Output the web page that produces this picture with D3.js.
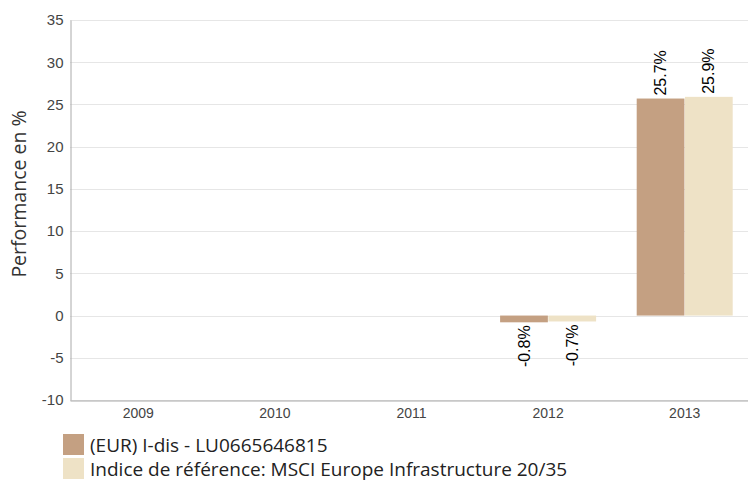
<!DOCTYPE html>
<html>
<head>
<meta charset="utf-8">
<script src="https://cdn.jsdelivr.net/npm/d3@7"></script>
<style>
body{margin:0;background:#fff;}
svg{display:block;}
</style>
</head>
<body>
<svg id="chart" width="748" height="481"></svg>
<script>
var years = ["2009","2010","2011","2012","2013"];
var fundValues = [null, null, null, -0.8, 25.7];
var indexValues = [null, null, null, -0.7, 25.9];
var seriesNames = ["(EUR) I-dis - LU0665646815", "Indice de référence: MSCI Europe Infrastructure 20/35"];
var seriesColors = ["#c4a082", "#eee2c6"];
var yTicks = [-10,-5,0,5,10,15,20,25,30,35];

var svg = d3.select("#chart");
var plotLeft = 70, plotRight = 753, plotTop = 20, plotBottom = 400;

var x = d3.scaleBand().domain(years).range([plotLeft, plotRight]);
var y = d3.scaleLinear().domain([-10, 35]).range([plotBottom, plotTop]);

// grid
svg.append("g").selectAll("line").data(yTicks).enter().append("line")
    .attr("x1", plotLeft).attr("x2", 748)
    .attr("y1", function(d){ return Math.round(y(d)) + 0.5; })
    .attr("y2", function(d){ return Math.round(y(d)) + 0.5; })
    .style("stroke", "#e6e6e6").style("stroke-width", 1);

// y axis
var yAxis = svg.append("g").attr("transform", "translate(" + (plotLeft + 0.5) + ",0)")
    .call(d3.axisLeft(y).tickValues(yTicks).tickSize(0).tickPadding(7)
        .tickFormat(function(d){ return String(d); }));
yAxis.select(".domain").style("stroke", "#aaa");
yAxis.selectAll("text").style("font-family", "Liberation Sans, Arial, sans-serif")
    .style("font-size", "15px").style("fill", "#444");

// x axis
var xAxis = svg.append("g").attr("transform", "translate(0," + (plotBottom + 0.5) + ")")
    .call(d3.axisBottom(x).tickSize(0).tickPadding(8));
xAxis.select(".domain").style("stroke", "#aaa");
xAxis.selectAll("text").style("font-family", "Liberation Sans, Arial, sans-serif")
    .style("font-size", "14px").style("fill", "#444");

svg.append("text")
    .attr("transform", "translate(26,194) rotate(-90)")
    .attr("text-anchor", "middle")
    .style("font-family", "Open Sans, sans-serif").style("font-size", "19.5px").style("fill", "#333")
    .text("Performance en %");

// bars
var inner = d3.scaleBand().domain([0, 1]).range([0, 96]).paddingInner(0.01);
var series = [fundValues, indexValues];
series.forEach(function(vals, s){
    var pts = vals.map(function(v, i){ return {year: years[i], v: v}; })
        .filter(function(p){ return p.v !== null; });
    var g = svg.append("g");
    g.selectAll("rect").data(pts).enter().append("rect")
        .attr("x", function(p){ return x(p.year) + x.bandwidth() / 2 - 48 + inner(s); })
        .attr("width", inner.bandwidth())
        .attr("y", function(p){ return y(Math.max(0, p.v)); })
        .attr("height", function(p){ return Math.abs(y(p.v) - y(0)); })
        .style("fill", seriesColors[s]);
    g.selectAll("text").data(pts).enter().append("text")
        .attr("transform", function(p){
            var cx = x(p.year) + x.bandwidth() / 2 - 48 + inner(s) + inner.bandwidth() / 2;
            var cy = p.v >= 0 ? y(p.v) - 3 : y(p.v) + 3;
            return "translate(" + cx + "," + cy + ") rotate(-90)";
        })
        .attr("dy", "0.35em")
        .attr("text-anchor", function(p){ return p.v >= 0 ? "start" : "end"; })
        .style("font-family", "Liberation Sans, Arial, sans-serif").style("font-size", "16px").style("fill", "#000")
        .text(function(p){ return p.v.toFixed(1) + "%"; });
});

// legend
var legend = svg.append("g").selectAll("g").data(seriesNames).enter().append("g")
    .attr("transform", function(d, i){ return "translate(63," + (434 + i * 24) + ")"; });
legend.append("rect").attr("width", 21).attr("height", 21)
    .style("fill", function(d, i){ return seriesColors[i]; });
legend.append("text").attr("x", 27).attr("y", 17.5)
    .style("font-family", "Open Sans, sans-serif").style("font-size", "19px").style("fill", "#222")
    .text(function(d){ return d; });
</script>
</body>
</html>
